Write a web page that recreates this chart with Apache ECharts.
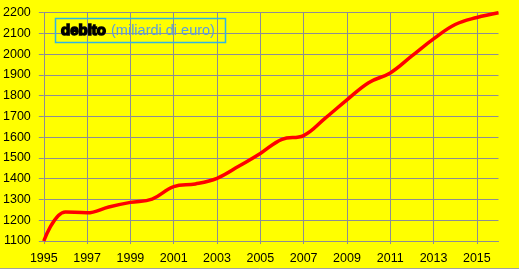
<!DOCTYPE html>
<html>
<head>
<meta charset="utf-8">
<script src="https://cdn.jsdelivr.net/npm/echarts@6/dist/echarts.min.js"></script>
<style>
html,body{margin:0;padding:0;background:#ffff00;}
#c{width:519px;height:269px;}
</style>
</head>
<body>
<div id="c"></div>
<script>
const years = ['1995','1996','1997','1998','1999','2000','2001','2002','2003','2004','2005','2006','2007','2008','2009','2010','2011','2012','2013','2014','2015','2016'];
const debito = [1100,1240,1236,1264,1286,1302,1362,1375,1402,1460,1522,1590,1608,1692,1780,1863,1910,1992,2074,2143,2177,2200];
const yTicks = {min:1100, max:2200, step:100};
const titleBold = 'debito';
const titleRest = '(miliardi di euro)';

const chart = echarts.init(document.getElementById('c'), null, {renderer:'canvas'});
const grid = '#8e8e94';
chart.setOption({
  backgroundColor:'#ffff00',
  animation:false,
  grid:{left:43, right:20.5, top:12.7, bottom:28},
  xAxis:{
    type:'category',
    data:years,
    boundaryGap:false,
    axisLine:{lineStyle:{color:grid,width:1}},
    axisTick:{show:true, interval:1, length:3, lineStyle:{color:grid}},
    axisLabel:{interval:1, margin:11, color:'#000', fontSize:12.5, fontFamily:'Liberation Sans'},
    splitLine:{show:true, interval:1, lineStyle:{color:grid,width:1}}
  },
  yAxis:{
    type:'value',
    min:yTicks.min, max:yTicks.max, interval:yTicks.step,
    axisLine:{show:true, lineStyle:{color:grid,width:1}},
    axisTick:{show:true, length:5, lineStyle:{color:grid}},
    axisLabel:{margin:13, color:'#000', fontSize:12.5, fontFamily:'Liberation Sans', formatter:v=>String(v)},
    splitLine:{show:true, lineStyle:{color:grid,width:1}}
  },
  series:[{
    type:'line',
    data:debito,
    smooth:0.4,
    showSymbol:false,
    lineStyle:{color:'#ff0000', width:3.5},
    z:5
  }],
  graphic:[
    {type:'rect', shape:{x:55.5, y:18.5, width:170, height:24}, style:{fill:'none', stroke:'#2db4e8', lineWidth:1.5}, z:10},
    {type:'text', x:61, y:31, style:{
      text:titleBold, verticalAlign:'middle',
      font:'bold 15px "Liberation Sans"', fill:'#000', stroke:'#000', lineWidth:1.5
    }, z:10},
    {type:'text', x:111, y:31, style:{
      text:titleRest, verticalAlign:'middle',
      font:'14.5px "Liberation Sans"', fill:'#5b9de0'
    }, z:10},
    {type:'line', shape:{x1:0, y1:268.5, x2:519, y2:268.5}, style:{stroke:'#a0a0a0', lineWidth:1}, z:10}
  ]
});
</script>
</body>
</html>
